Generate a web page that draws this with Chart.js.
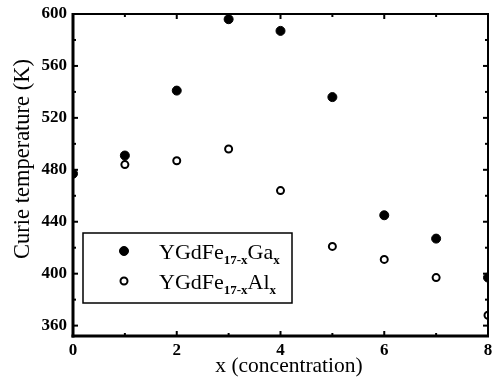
<!DOCTYPE html>
<html>
<head>
<meta charset="utf-8">
<script src="https://cdn.jsdelivr.net/npm/chart.js@4.4.1/dist/chart.umd.min.js"></script>
<style>
  html, body { margin: 0; padding: 0; background: #fff; }
  #wrap { width: 494px; height: 384px; }
</style>
</head>
<body>
<div id="wrap"><canvas id="curieChart" width="494" height="384"></canvas></div>
<script>
const xGa = [0, 1, 2, 3, 4, 5, 6, 7, 8];
const tcGa = [477, 491, 541, 596, 587, 536, 445, 427, 397];
const xAl = [1, 2, 3, 4, 5, 6, 7, 8];
const tcAl = [484, 487, 496, 464, 421, 411, 397, 368];

const xTicks = [0, 2, 4, 6, 8];
const xMinor = [1, 3, 5, 7];
const yTicks = [360, 400, 440, 480, 520, 560, 600];
const yMinor = [380, 420, 460, 500, 540, 580];

const xTitle = 'x (concentration)';
const yTitle = 'Curie temperature (K)';
const legendParts = [
  ["YGdFe", "17-x", "Ga", "x"],
  ["YGdFe", "17-x", "Al", "x"]
];

const serif = '"Liberation Serif", "Times New Roman", serif';

// frame + inward ticks on all four sides, plus axis titles
const framePlugin = {
  id: 'frame',
  afterDatasetsDraw(chart) {
    const { ctx, chartArea: a, scales: { x, y } } = chart;
    ctx.save();
    ctx.strokeStyle = '#000';
    ctx.lineCap = 'butt';

    const line = (x1, y1, x2, y2, w) => {
      ctx.lineWidth = w;
      ctx.beginPath();
      ctx.moveTo(x1, y1);
      ctx.lineTo(x2, y2);
      ctx.stroke();
    };

    xTicks.concat(xMinor).forEach(v => {
      const px = x.getPixelForValue(v);
      const len = xTicks.includes(v) ? 5 : 3;
      line(px, a.bottom, px, a.bottom - len, 2);
      line(px, a.top, px, a.top + len, 2);
    });
    yTicks.concat(yMinor).forEach(v => {
      const py = y.getPixelForValue(v);
      const len = yTicks.includes(v) ? 5 : 3;
      line(a.left, py, a.left + len, py, 2);
      line(a.right, py, a.right - len, py, 2);
    });

    line(a.left, a.top, a.right + 1, a.top, 2);
    line(a.right, a.top, a.right, a.bottom, 2);
    line(a.left - 1.5, a.bottom, a.right + 1, a.bottom, 3);
    line(a.left, a.top - 1, a.left, a.bottom + 1.5, 3);

    // titles
    ctx.fillStyle = '#000';
    ctx.textAlign = 'center';
    ctx.textBaseline = 'middle';
    ctx.font = '21.5px ' + serif;
    ctx.fillText(xTitle, 289, 366);
    ctx.translate(23, 159);
    ctx.rotate(-Math.PI / 2);
    ctx.font = '22.5px ' + serif;
    ctx.fillText(yTitle, 0, 0);
    ctx.restore();
  }
};

// boxed legend with subscripts
const legendPlugin = {
  id: 'subLegend',
  afterDraw(chart) {
    const { ctx } = chart;
    const box = { l: 83, t: 233, r: 292, b: 303 };
    ctx.save();
    ctx.fillStyle = '#fff';
    ctx.fillRect(box.l, box.t, box.r - box.l, box.b - box.t);
    ctx.strokeStyle = '#000';
    ctx.lineWidth = 1.5;
    ctx.strokeRect(box.l, box.t, box.r - box.l, box.b - box.t);

    const rows = [259, 289];
    chart.data.datasets.forEach((ds, i) => {
      const base = rows[i];
      ctx.beginPath();
      ctx.arc(124, base - 8, ds.pointRadius, 0, Math.PI * 2);
      ctx.fillStyle = ds.pointBackgroundColor;
      ctx.fill();
      ctx.lineWidth = ds.pointBorderWidth;
      ctx.strokeStyle = ds.pointBorderColor;
      ctx.stroke();

      let tx = 159;
      ctx.fillStyle = '#000';
      ctx.textBaseline = 'alphabetic';
      legendParts[i].forEach((part, j) => {
        const sub = j % 2 === 1;
        ctx.font = sub ? 'bold 13px ' + serif : '22px ' + serif;
        ctx.fillText(part, tx, sub ? base + 5 : base);
        tx += ctx.measureText(part).width;
      });
    });
    ctx.restore();
  }
};

new Chart(document.getElementById('curieChart'), {
  type: 'scatter',
  data: {
    datasets: [{
      label: 'YGdFe17-xGax',
      data: xGa.map((v, i) => ({ x: v, y: tcGa[i] })),
      pointRadius: 4.5,
      pointBackgroundColor: '#000',
      pointBorderColor: '#000',
      pointBorderWidth: 1,
      clip: 0
    }, {
      label: 'YGdFe17-xAlx',
      data: xAl.map((v, i) => ({ x: v, y: tcAl[i] })),
      pointRadius: 3.5,
      pointBackgroundColor: '#fff',
      pointBorderColor: '#000',
      pointBorderWidth: 2,
      clip: 0
    }]
  },
  options: {
    responsive: false,
    animation: false,
    events: [],
    layout: { padding: { top: 14, right: 3, left: 0, bottom: 0 } },
    plugins: { legend: { display: false }, tooltip: { enabled: false } },
    scales: {
      x: {
        type: 'linear',
        min: 0,
        max: 8,
        afterBuildTicks: s => { s.ticks = xTicks.map(v => ({ value: v })); },
        afterFit: s => { s.height = 48; s.paddingLeft = 0; s.paddingRight = 0; },
        grid: { display: false, drawTicks: false },
        border: { display: false },
        ticks: { padding: 4, color: '#000', font: { family: serif, size: 17, weight: 'bold' } }
      },
      y: {
        type: 'linear',
        min: 352,
        max: 600,
        afterBuildTicks: s => { s.ticks = yTicks.map(v => ({ value: v })); },
        afterFit: s => { s.width = 73; s.paddingTop = 0; s.paddingBottom = 0; },
        grid: { display: false, drawTicks: false },
        border: { display: false },
        ticks: { padding: 6, color: '#000', font: { family: serif, size: 17, weight: 'bold' } }
      }
    }
  },
  plugins: [framePlugin, legendPlugin]
});
</script>
</body>
</html>
